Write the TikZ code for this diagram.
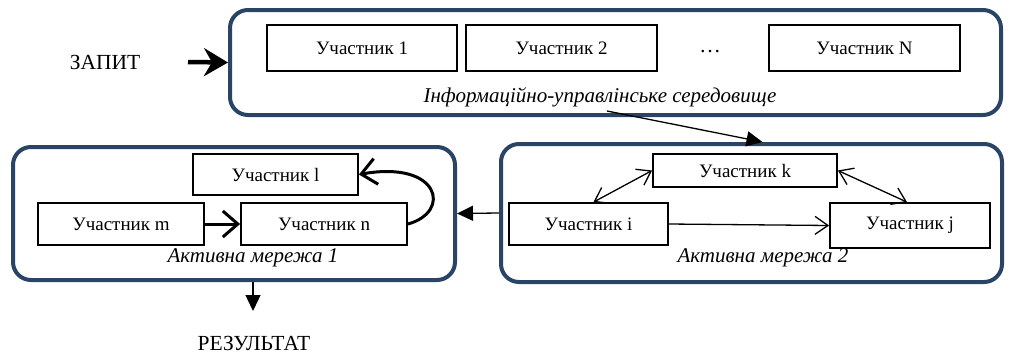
\documentclass[tikz,border=0pt]{standalone}
\usepackage{fontspec}
\setmainfont{Liberation Serif}
\usetikzlibrary{arrows.meta,calc}
\definecolor{navy}{HTML}{2A4466}
\tikzset{barb/.tip={Straight Barb[length=13pt,width=18pt,line width=1.3pt]}}
\begin{document}
\begin{tikzpicture}[x=1pt,y=-1pt,
  container/.style={draw=navy,line width=4pt,rounded corners=18pt,inner sep=0pt},
  pbox/.style={draw,line width=1.8pt,inner sep=0pt,font=\fontsize{19}{22}\selectfont},
  captxt/.style={font=\itshape\fontsize{21}{24}\selectfont,inner sep=0pt},
  lbl/.style={font=\fontsize{21.5}{24}\selectfont,inner sep=0pt},
  fat/.style={line width=3pt,-{Straight Barb[length=15pt,width=26pt,line width=3pt]}},
  thinln/.style={line width=1.3pt},
  tri/.style={line width=1.3pt,-{Triangle[length=16pt,width=15pt]}}]
\useasboundingbox (0,0) rectangle (1023,354);
% top container
\node[container,minimum width=771pt,minimum height=105pt] (T) at (615.5,62.5) {};
\node[pbox,minimum width=190pt,minimum height=46pt] (p1) at (362,48) {Участник 1};
\node[pbox,minimum width=191pt,minimum height=46pt] (p2) at (561.5,48) {Участник 2};
\node[lbl] (dots) at (710,52) {…};
\node[pbox,minimum width=191pt,minimum height=46pt] (pN) at (864.5,48) {Участник N};
\node[captxt] (capT) at (600,97) {Інформаційно-управлінське середовище};
\node[lbl] (zapit) at (105,62) {ЗАПИТ};
\coordinate (zs) at (188,62);
\draw[line width=4.5pt,-{Stealth[length=24pt,width=28pt,inset=8pt]}] (zs) -- (T.west);
% left container
\node[container,minimum width=442pt,minimum height=133pt] (L) at (234,213.5) {};
\node[pbox,minimum width=165pt,minimum height=41pt] (l) at (275.5,174.5) {Участник l};
\node[pbox,minimum width=166pt,minimum height=42pt] (m) at (121,224) {Участник m};
\node[pbox,minimum width=166pt,minimum height=42pt] (n) at (324,224) {Участник n};
\node[captxt] (capL) at (253,258) {Активна мережа 1};
\draw[fat] (m.east) -- (n.west);
\draw[fat] (n.east) .. controls (452,212) and (440,160) .. (l.east);
% right container
\node[container,minimum width=501pt,minimum height=138pt] (R) at (751.5,213) {};
\node[pbox,minimum width=184pt,minimum height=33pt] (k) at (745,170.5) {Участник k};
\node[pbox,minimum width=159pt,minimum height=42pt] (i) at (588.5,224) {Участник i};
\node[pbox,minimum width=160pt,minimum height=45pt] (j) at (910,225.5) {Участник j};
\node[captxt] (capR) at (763,258) {Активна мережа 2};
\draw[thinln,-barb] (i.east) -- (j.west);
\draw[thinln,barb-barb] ($(i.north)+(5,0)$) -- (k.west);
\draw[thinln,barb-barb] (k.east) -- ($(j.north)+(-3,0)$);
% connectors between containers
\coordinate (ts) at (607,111);
\draw[tri] (ts) -- ($(R.north)+(11,0)$);
\draw[tri] (R.west) -- (L.east);
\node[lbl] (res) at (254,343) {РЕЗУЛЬТАТ};
\coordinate (re) at (253,311);
\draw[tri] ($(L.south)+(19,0)$) -- (re);
\end{tikzpicture}
\end{document}
